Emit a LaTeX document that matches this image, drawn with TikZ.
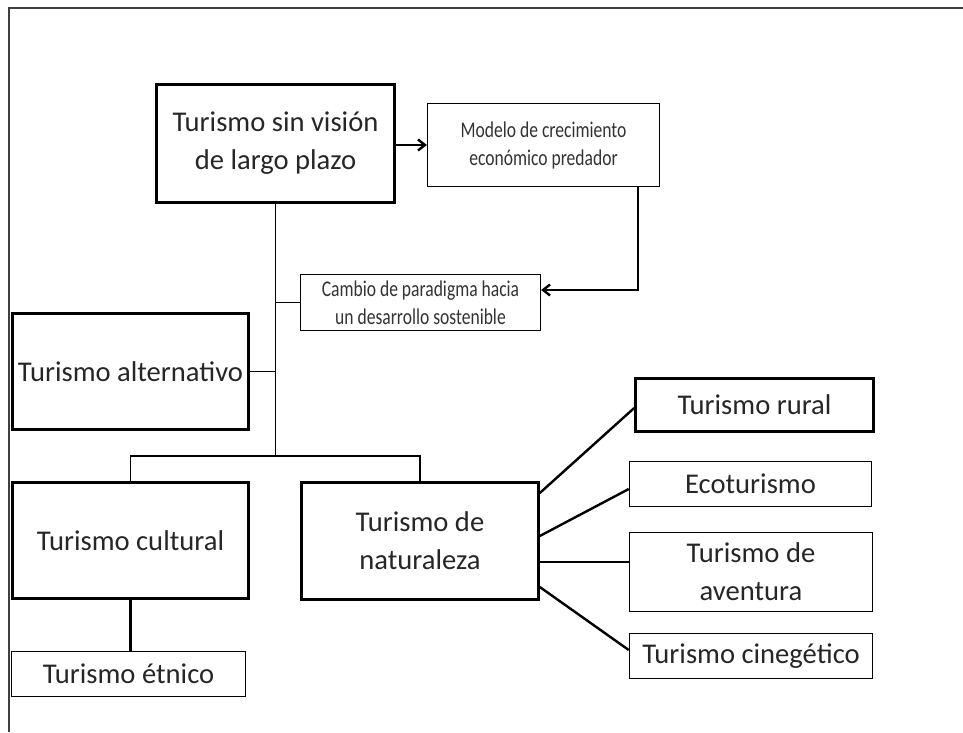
\documentclass[tikz,border=0pt]{standalone}
\usepackage{fontspec}
\setmainfont{Carlito}
\newfontfamily\condfont[FakeStretch=0.78]{Carlito}
\usetikzlibrary{arrows.meta}

\tikzset{
  box/.style={draw, align=center, inner sep=0pt, text=black!85,
    font=\fontsize{28.6}{38}\selectfont},
  thickbox/.style={box, line width=2.6pt},
  thinbox/.style={box, line width=1.5pt},
  notebox/.style={box, line width=1.2pt, text=black!80, font=\condfont\fontsize{22.5}{28}\selectfont},
  link/.style={line width=1.3pt},
  branch/.style={line width=2.4pt},
}

\begin{document}
\begin{tikzpicture}[x=1pt,y=1pt,>={Straight Barb[length=7pt,width=11pt]}]
	\useasboundingbox (0,0) rectangle (963,-732);
	% frame
	\draw[line width=2pt,black!75] (963,-7.5) -- (9,-7.5) -- (9,-732);

	% boxes
	\node[thickbox, minimum width=238, minimum height=118] (top) at (275.5,-143.5) {Turismo sin visión\\de largo plazo};
	\node[notebox, minimum width=232, minimum height=83] (modelo) at (543.5,-145) {Modelo de crecimiento\\económico predador};
	\node[notebox, minimum width=240, minimum height=56] (cambio) at (420.5,-302.5) {Cambio de paradigma hacia\\un desarrollo sostenible};
	\node[thickbox, minimum width=236, minimum height=116] (alternativo) at (130.5,-371.5) {Turismo alternativo};
	\node[thickbox, minimum width=236, minimum height=116] (cultural) at (130.5,-540.5) {Turismo cultural};
	\node[thickbox, minimum width=237, minimum height=117] (naturaleza) at (420,-541) {Turismo de\\naturaleza};
	\node[thinbox, minimum width=234, minimum height=45] (etnico) at (128.5,-674) {Turismo étnico};
	\node[thickbox, minimum width=238, minimum height=53] (rural) at (754.5,-405) {Turismo rural};
	\node[thinbox, minimum width=242, minimum height=45] (eco) at (750.5,-484) {Ecoturismo};
	\node[thinbox, minimum width=243, minimum height=79] (aventura) at (751,-572) {Turismo de\\aventura};
	\node[thinbox, minimum width=243, minimum height=45] (cinegetico) at (751,-656) {Turismo cinegético};

	\coordinate (split) at (275.5,-456);
	\coordinate (turn) at (638,-290);

	% arrows
	\draw[branch,->] (modelo.west -| top.east) -- (modelo.west);
	\draw[branch,->] (modelo.south -| turn) -- (turn) -- (cambio.east |- turn);

	% tree
	\draw[link] (top.south) -- (split);
	\draw[link] (cambio.west) -- (cambio.west -| split);
	\draw[link] (alternativo.east) -- (alternativo.east -| split);
	\draw[link] (cultural.north) -- (cultural.north |- split) -- (naturaleza.north |- split) -- (naturaleza.north);
	\draw[branch] (cultural.south) -- (cultural.south |- etnico.north);

	% naturaleza branches
	\draw[branch] ([yshift=48]naturaleza.east) -- ([yshift=-3]rural.west);
	\draw[branch] ([yshift=5]naturaleza.east) -- ([yshift=-5]eco.west);
	\draw[branch] ([yshift=-21]naturaleza.east) -- ([yshift=10]aventura.west);
	\draw[branch] ([yshift=-46]naturaleza.east) -- ([yshift=6]cinegetico.west);
\end{tikzpicture}
\end{document}
